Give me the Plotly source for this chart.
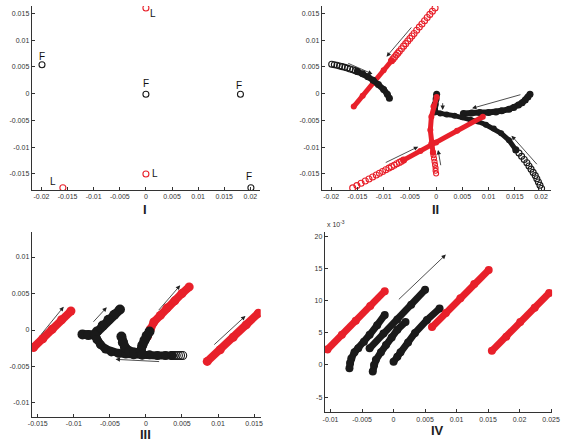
import plotly.graph_objects as go

W, H = 565, 442
RED = "#e8202a"
BLK = "#1a1a1a"

# ---------------- Panel I : isolated points ----------------
p1_red_x = [0.0, 0.0, -0.0159]
p1_red_y = [0.0160, -0.0150, -0.01756]
p1_blk_x = [-0.0199, 0.0, 0.0181, 0.0201]
p1_blk_y = [0.0054, -0.0001, -0.0001, -0.01756]
p1_lab_text = ["L", "L", "L", "F", "F", "F", "F"]
p1_lab_x = [0.0013, 0.0017, -0.0177, -0.0199, 0.0, 0.0179, 0.0198]
p1_lab_y = [0.0150, -0.0150, -0.0164, 0.0069, 0.0019, 0.0015, -0.0155]

# ---------------- Panel II : trajectories ----------------
p2_r1_dense_x = [-0.0157, -0.0140, -0.0120, -0.0100, -0.0085]
p2_r1_dense_y = [-0.0024, -0.0004, 0.0020, 0.0044, 0.00615]
p2_r1_sparse_x = [-0.0085, -0.0082, -0.0079, -0.0076, -0.0073, -0.0070, -0.0066, -0.0062,
                  -0.0058, -0.0054, -0.0050, -0.0046, -0.0042, -0.0037, -0.0032, -0.0027,
                  -0.0022, -0.0017, -0.0012, -0.0007, -0.0002]
p2_r1_sparse_y = [0.00615, 0.00650, 0.00686, 0.00721, 0.00757, 0.00793, 0.00840, 0.00888,
                  0.00935, 0.00983, 0.01030, 0.01078, 0.01125, 0.01184, 0.01244, 0.01303,
                  0.01362, 0.01422, 0.01481, 0.01541, 0.01600]

p2_b1_sparse_x = [-0.0199, -0.0194, -0.0189, -0.0184, -0.0179, -0.0174, -0.0169, -0.0164,
                  -0.0159, -0.0154, -0.0150]
p2_b1_sparse_y = [0.00549, 0.00540, 0.00530, 0.00518, 0.00505, 0.00492, 0.00478, 0.00462,
                  0.00446, 0.00430, 0.00413]
p2_b1_dense_x = [-0.0150, -0.0140, -0.0130, -0.0120, -0.0110, -0.0100, -0.0093, -0.0089]
p2_b1_dense_y = [0.00413, 0.00372, 0.00316, 0.00250, 0.00172, 0.00080, -0.00010, -0.00086]

p2_b2_x = [0.0179, 0.0175, 0.0170, 0.0164, 0.0157, 0.0148, 0.0139, 0.0125, 0.0114, 0.0100,
           0.0083, 0.0068, 0.0052]
p2_b2_y = [-0.0001, -0.0006, -0.0012, -0.0017, -0.0021, -0.0026, -0.0029, -0.0032, -0.0034,
           -0.0035, -0.0035, -0.0036, -0.0037]

p2_b3_sparse_x = [0.0201, 0.0198, 0.0195, 0.0192, 0.0189, 0.0185, 0.0181, 0.0177, 0.0173,
                  0.0168, 0.0163, 0.0158, 0.0152]
p2_b3_sparse_y = [-0.0177, -0.0171, -0.0165, -0.0159, -0.0153, -0.0147, -0.0141, -0.0135,
                  -0.0129, -0.0123, -0.0117, -0.0111, -0.0105]
p2_b3_dense_x = [0.0152, 0.0139, 0.0124, 0.0110, 0.0095, 0.0080, 0.0065, 0.0050, 0.0035,
                 0.0020, 0.0008, -0.0003]
p2_b3_dense_y = [-0.0105, -0.0087, -0.0074, -0.0065, -0.0058, -0.0052, -0.0048, -0.0044,
                 -0.0041, -0.0039, -0.0037, -0.0034]

p2_b4_x = [0.0001, 0.0000, -0.0002, -0.0003, -0.0003]
p2_b4_y = [-0.0001, -0.0010, -0.0020, -0.0030, -0.0034]

p2_r2_sparse_x = [-0.0159, -0.0151, -0.0143, -0.0135, -0.0128, -0.0121, -0.0114, -0.0108,
                  -0.0102, -0.0096, -0.0090, -0.0085, -0.0080, -0.0075, -0.0070, -0.0066,
                  -0.0062]
p2_r2_sparse_y = [-0.01760, -0.01717, -0.01674, -0.01631, -0.01594, -0.01556, -0.01519,
                  -0.01486, -0.01454, -0.01422, -0.01390, -0.01363, -0.01336, -0.01310,
                  -0.01283, -0.01261, -0.01240]
p2_r2_dense_x = [-0.0062, -0.0030, 0.0000, 0.0040, 0.0089]
p2_r2_dense_y = [-0.0124, -0.0107, -0.0091, -0.0069, -0.0043]

p2_r3_dense_x = [0.0001, -0.0005, -0.0009, -0.0011, -0.0009, -0.0006]
p2_r3_dense_y = [-0.0006, -0.0024, -0.0043, -0.0068, -0.0093, -0.0110]
p2_r3_sparse_x = [-0.0006, -0.0005, -0.0004, -0.0003, -0.0002, -0.0001, -0.0001, 0.0000]
p2_r3_sparse_y = [-0.0110, -0.0115, -0.0121, -0.0127, -0.0133, -0.0139, -0.0144, -0.0149]

p2_arrow_tail_x = [-0.00448, -0.01703, 0.01636, 0.00125, 0.01946, -0.00989, 0.00093]
p2_arrow_tail_y = [0.01265, 0.00579, -0.00011, -0.00149, -0.01345, -0.01300, -0.01364]
p2_arrow_head_x = [-0.00946, -0.01213, 0.00685, 0.00125, 0.01437, -0.00341, 0.00037]
p2_arrow_head_y = [0.00691, 0.00368, -0.00273, -0.00304, -0.00785, -0.00990, -0.01052]

# ---------------- Panel III ----------------
p3_r1_x = [-0.0156, -0.0143, -0.0130, -0.0117, -0.0104]
p3_r1_y = [-0.0024, -0.0012, 0.0001, 0.0014, 0.0026]
p3_r2_x = [0.0002, 0.0006, 0.0011, 0.0020, 0.0029, 0.0040, 0.0050, 0.0060]
p3_r2_y = [-0.0009, 0.0001, 0.0011, 0.0020, 0.0030, 0.0040, 0.0050, 0.0059]
p3_r3_x = [0.0085, 0.0103, 0.0121, 0.0139, 0.0156]
p3_r3_y = [-0.0043, -0.0027, -0.0010, 0.0007, 0.0023]
p3_bp_x = [-0.0036, -0.0044, -0.0052, -0.0060, -0.0068, -0.0071]
p3_bp_y = [0.0028, 0.0021, 0.0014, 0.0006, -0.0002, -0.0006]
p3_bk_x = [-0.0088, -0.0080, -0.0071]
p3_bk_y = [-0.0006, -0.0007, -0.0007]
p3_bt_x = [-0.0071, -0.0068, -0.0063, -0.0056, -0.0048, -0.0038, -0.0028, -0.0017, -0.0006,
           0.0005, 0.0016, 0.0027, 0.0036]
p3_bt_y = [-0.0007, -0.0013, -0.0020, -0.0026, -0.0030, -0.0032, -0.0033, -0.0034, -0.0034,
           -0.0034, -0.0035, -0.0035, -0.0035]
p3_bts_x = [0.0036, 0.0039, 0.0042, 0.0045, 0.0048, 0.0051]
p3_bts_y = [-0.0035, -0.0035, -0.0035, -0.0035, -0.0035, -0.0035]
p3_bq_x = [-0.0034, -0.0032, -0.0029, -0.0023, -0.0016, -0.0007]
p3_bq_y = [-0.0009, -0.0017, -0.0024, -0.0029, -0.0031, -0.0032]
p3_br_x = [0.0005, 0.0001, -0.0002, -0.0005, -0.0007, -0.0005]
p3_br_y = [-0.0002, -0.0008, -0.0014, -0.0021, -0.0028, -0.0034]

p3_arrow_tail_x = [-0.0147, -0.00747, 0.00159, 0.00927, 0.00204]
p3_arrow_tail_y = [-0.00082, 0.00092, 0.00251, -0.00219, -0.00434]
p3_arrow_head_x = [-0.0114, -0.00543, 0.00475, 0.0138, -0.00421]
p3_arrow_head_y = [0.00319, 0.00311, 0.00612, 0.00192, -0.00402]

# ---------------- Panel IV (y in units of 1e-3) ----------------
p4_r1_x = [-0.0105, -0.0082, -0.0060, -0.0037, -0.0014]
p4_r1_y = [2.4, 4.7, 6.9, 9.2, 11.5]
p4_r2_x = [0.0061, 0.0083, 0.0106, 0.0128, 0.0151]
p4_r2_y = [5.9, 8.1, 10.4, 12.6, 14.8]
p4_r3_x = [0.0156, 0.0179, 0.0201, 0.0224, 0.0247]
p4_r3_y = [2.2, 4.4, 6.7, 8.9, 11.2]
p4_b1_x = [-0.0070, -0.0069, -0.0067, -0.0062, -0.0056, -0.0047, -0.0038, -0.0026, -0.0014]
p4_b1_y = [-0.5, 0.3, 1.0, 2.0, 2.6, 3.6, 4.7, 6.2, 7.8]
p4_b2_x = [-0.0038, -0.0016, 0.0006, 0.0028, 0.0050]
p4_b2_y = [2.6, 4.9, 7.1, 9.4, 11.7]
p4_b3_x = [-0.0033, -0.0031, -0.0028, -0.0020, -0.0012, -0.0003, 0.0006, 0.0019]
p4_b3_y = [-1.0, 0.0, 0.8, 2.0, 3.1, 4.3, 5.5, 6.7]
p4_b4_x = [0.0000, 0.0006, 0.0011, 0.0023, 0.0034, 0.0053, 0.0073]
p4_b4_y = [0.5, 1.3, 2.0, 3.5, 5.0, 7.0, 8.8]
p4_arrow_tail = (0.0006, 10.0)
p4_arrow_head = (0.0083, 17.2)

# ---------------- tick labels ----------------
t12_x = [-0.02, -0.015, -0.01, -0.005, 0, 0.005, 0.01, 0.015, 0.02]
t12_y = [-0.015, -0.01, -0.005, 0, 0.005, 0.01, 0.015]
t3_x = [-0.015, -0.01, -0.005, 0, 0.005, 0.01, 0.015]
t3_y = [-0.01, -0.005, 0, 0.005, 0.01]
t4_x = [-0.01, -0.005, 0, 0.005, 0.01, 0.015, 0.02, 0.025]
t4_y = [-5, 0, 5, 10, 15, 20]
panel_names = ["I", "II", "III", "IV"]

# ---------------- layout geometry (pixels) ----------------
boxes = {
    1: (28.3, 261.7, 6, 190),
    2: (324.7, 558.7, 6, 190),
    3: (28.3, 262.3, 231.7, 416.7),
    4: (327.7, 560, 231.7, 412.3),
}
ranges = {
    1: ([-0.02187, 0.02187], [-0.01799, 0.01638]),
    2: ([-0.02179, 0.02187], [-0.01799, 0.01638]),
    3: ([-0.01584, 0.01592], [-0.01188, 0.01347]),
    4: ([-0.01092, 0.02516], [-7.37, 20.76]),
}
ticks = {1: (t12_x, t12_y), 2: (t12_x, t12_y), 3: (t3_x, t3_y), 4: (t4_x, t4_y)}
label_pos = {1: (144.3, 209), 2: (441, 209), 3: (144.3, 434), 4: (442.7, 430)}

fig = go.Figure()


def ax(i):
    return ("x" if i == 1 else f"x{i}"), ("y" if i == 1 else f"y{i}")


def add(i, xs, ys, color, dense, lw=6, ms=6):
    xa, ya = ax(i)
    if dense:
        fig.add_trace(go.Scatter(x=xs, y=ys, xaxis=xa, yaxis=ya, mode="lines+markers",
                                 line=dict(color=color, width=lw),
                                 marker=dict(symbol="circle", size=lw + 1, color=color,
                                             line=dict(width=0)),
                                 showlegend=False, hoverinfo="skip"))
    else:
        fig.add_trace(go.Scatter(x=xs, y=ys, xaxis=xa, yaxis=ya, mode="markers",
                                 marker=dict(symbol="circle-open", size=ms, color=color,
                                             line=dict(width=1.1, color=color)),
                                 showlegend=False, hoverinfo="skip"))


# Panel I
add(1, p1_red_x, p1_red_y, RED, False, ms=6)
add(1, p1_blk_x, p1_blk_y, BLK, False, ms=6)

# Panel II
add(2, p2_r1_dense_x, p2_r1_dense_y, RED, True, lw=5)
add(2, p2_r1_sparse_x, p2_r1_sparse_y, RED, False, ms=6)
add(2, p2_b1_sparse_x, p2_b1_sparse_y, BLK, False, ms=6)
add(2, p2_b1_dense_x, p2_b1_dense_y, BLK, True, lw=6)
add(2, p2_b2_x, p2_b2_y, BLK, True, lw=6)
add(2, p2_b3_sparse_x, p2_b3_sparse_y, BLK, False, ms=6)
add(2, p2_b3_dense_x, p2_b3_dense_y, BLK, True, lw=5)
add(2, p2_b4_x, p2_b4_y, BLK, True, lw=6)
add(2, p2_r2_sparse_x, p2_r2_sparse_y, RED, False, ms=6)
add(2, p2_r2_dense_x, p2_r2_dense_y, RED, True, lw=5)
add(2, p2_r3_dense_x, p2_r3_dense_y, RED, True, lw=5)
add(2, p2_r3_sparse_x, p2_r3_sparse_y, RED, False, ms=5)

# Panel III
add(3, p3_r1_x, p3_r1_y, RED, True, lw=8)
add(3, p3_r2_x, p3_r2_y, RED, True, lw=8)
add(3, p3_r3_x, p3_r3_y, RED, True, lw=8)
add(3, p3_bp_x, p3_bp_y, BLK, True, lw=9)
add(3, p3_bk_x, p3_bk_y, BLK, True, lw=9)
add(3, p3_bt_x, p3_bt_y, BLK, True, lw=8)
add(3, p3_bts_x, p3_bts_y, BLK, False, ms=8)
add(3, p3_bq_x, p3_bq_y, BLK, True, lw=9)
add(3, p3_br_x, p3_br_y, BLK, True, lw=9)

# Panel IV
for xs, ys in [(p4_b1_x, p4_b1_y), (p4_b2_x, p4_b2_y), (p4_b3_x, p4_b3_y), (p4_b4_x, p4_b4_y)]:
    add(4, xs, ys, BLK, True, lw=7)
for xs, ys in [(p4_r1_x, p4_r1_y), (p4_r2_x, p4_r2_y), (p4_r3_x, p4_r3_y)]:
    add(4, xs, ys, RED, True, lw=7)

annotations = []


def arrow(i, tx, ty, hx, hy):
    xa, ya = ax(i)
    annotations.append(dict(x=hx, y=hy, ax=tx, ay=ty, xref=xa, yref=ya, axref=xa, ayref=ya,
                            text="", showarrow=True, arrowhead=2, arrowsize=1.1,
                            arrowwidth=0.8, arrowcolor="#222"))


for k in range(len(p2_arrow_tail_x)):
    arrow(2, p2_arrow_tail_x[k], p2_arrow_tail_y[k], p2_arrow_head_x[k], p2_arrow_head_y[k])
for k in range(len(p3_arrow_tail_x)):
    arrow(3, p3_arrow_tail_x[k], p3_arrow_tail_y[k], p3_arrow_head_x[k], p3_arrow_head_y[k])
arrow(4, p4_arrow_tail[0], p4_arrow_tail[1], p4_arrow_head[0], p4_arrow_head[1])

for t, x, y in zip(p1_lab_text, p1_lab_x, p1_lab_y):
    annotations.append(dict(x=x, y=y, xref="x", yref="y", text=t, showarrow=False,
                            font=dict(family="Liberation Sans, Arial", size=10, color="#111")))

for i, name in zip([1, 2, 3, 4], panel_names):
    px, py = label_pos[i]
    annotations.append(dict(x=px / W, y=1 - py / H, xref="paper", yref="paper", text=f"<b>{name}</b>",
                            showarrow=False, xanchor="center", yanchor="middle",
                            font=dict(family="Liberation Sans, Arial", size=13, color="#222")))

annotations.append(dict(x=328 / W, y=1 - 224 / H, xref="paper", yref="paper",
                        text="x 10<sup>-3</sup>", showarrow=False, xanchor="left", yanchor="middle",
                        font=dict(family="Liberation Sans, Arial", size=7, color="#333")))

layout = dict(width=W, height=H, margin=dict(l=0, r=0, t=0, b=0),
              paper_bgcolor="white", plot_bgcolor="white", annotations=annotations,
              font=dict(family="Liberation Sans, Arial", size=7, color="#333"))

for i in [1, 2, 3, 4]:
    l, r, t, b = boxes[i]
    xr, yr = ranges[i]
    tx, ty = ticks[i]
    xk = "xaxis" if i == 1 else f"xaxis{i}"
    yk = "yaxis" if i == 1 else f"yaxis{i}"
    xa, ya = ax(i)
    common = dict(showline=True, linecolor="#333", linewidth=1, showgrid=False, zeroline=False,
                  ticks="inside", ticklen=3, tickcolor="#333", tickwidth=1,
                  tickfont=dict(size=7, color="#333"), fixedrange=True,
                  ticklabeloverflow="allow")
    layout[xk] = dict(domain=[l / W, r / W], range=xr, anchor=ya, tickvals=tx,
                      ticktext=[f"{v:g}" for v in tx], **common)
    layout[yk] = dict(domain=[1 - b / H, 1 - t / H], range=yr, anchor=xa, tickvals=ty,
                      ticktext=[f"{v:g}" for v in ty], **common)

fig.update_layout(**layout)
fig.write_html("out.html", config={"displayModeBar": False},
               post_script="document.body.style.margin='0';document.body.style.overflow='hidden';")
